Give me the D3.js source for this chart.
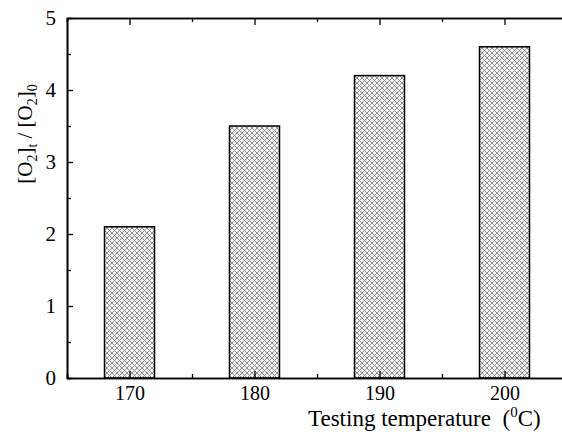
<!DOCTYPE html>
<html>
<head>
<meta charset="utf-8">
<script src="https://cdn.jsdelivr.net/npm/d3@7"></script>
<style>
  body { margin: 0; background: #fff; }
  svg { display: block; }
  .axis path, .axis line { stroke: #000; }
  .axis path { stroke-width: 1.6; }
  .axis line { stroke-width: 1.3; }
  .axis text { font-family: "Liberation Serif", "Times New Roman", serif; font-size: 21px; fill: #000; }
  .x.axis text { font-size: 20px; }
</style>
</head>
<body>
<svg class="chart"></svg>
<script>
const temps = [170, 180, 190, 200];
const ratios = [2.1, 3.5, 4.2, 4.6];
const yTicks = [0, 1, 2, 3, 4, 5];
const xTicks = [170, 180, 190, 200];

let margin = {top: 18, right: -5, bottom: 54, left: 67};
let widthChart = 562 - margin.left - margin.right;
let heightChart = 432 - margin.top - margin.bottom;

let svg = d3.select(".chart").attr("width", 562).attr("height", 432);

// crosshatch fill for the bars
let pat = svg.append("defs").append("pattern")
    .attr("id", "hatch")
    .attr("patternUnits", "userSpaceOnUse")
    .attr("width", 5).attr("height", 5);
pat.append("rect").attr("width", 5).attr("height", 5).attr("fill", "#f4f4f4");
pat.append("path").attr("d", "M-1,1 L1,-1 M0,5 L5,0 M4,6 L6,4")
    .attr("stroke", "#777").attr("stroke-width", 0.8);
pat.append("path").attr("d", "M-1,4 L1,6 M0,0 L5,5 M4,-1 L6,1")
    .attr("stroke", "#777").attr("stroke-width", 0.8);

let chart = svg.append("g")
    .attr("transform", "translate(" + margin.left + "," + margin.top + ")");

let x = d3.scaleLinear().domain([165, 205]).range([0, widthChart]);
let y = d3.scaleLinear().domain([0, 5]).range([heightChart, 0]);
let barW = x(174) - x(170);

chart.selectAll("rect.bar")
    .data(temps)
    .enter().append("rect")
    .attr("class", "bar")
    .attr("x", (d) => x(d) - barW / 2)
    .attr("y", (d, i) => y(ratios[i]))
    .attr("width", barW)
    .attr("height", (d, i) => heightChart - y(ratios[i]))
    .attr("fill", "url(#hatch)")
    .attr("stroke", "#000")
    .attr("stroke-width", 1.5);

// minor ticks first, then major ticks with labels (all pointing inward)
let xMinor = d3.range(165, 206, 5).filter((v) => xTicks.indexOf(v) < 0);
let yMinor = d3.range(0.5, 5, 1);

chart.append("g").attr("class", "x axis")
    .attr("transform", "translate(0," + heightChart + ")")
    .call(d3.axisBottom(x).tickValues(xMinor).tickSize(-4).tickFormat(""));
chart.append("g").attr("class", "x axis")
    .attr("transform", "translate(0," + heightChart + ")")
    .call(d3.axisBottom(x).tickValues(xTicks).tickSizeInner(-7).tickSizeOuter(0).tickPadding(8).tickFormat(d3.format("d")));

chart.append("g").attr("class", "x axis")
    .call(d3.axisTop(x).tickValues(xMinor).tickSize(-4).tickFormat(""));
chart.append("g").attr("class", "x axis")
    .call(d3.axisTop(x).tickValues(xTicks).tickSizeInner(-7).tickSizeOuter(0).tickFormat(""));

chart.append("g").attr("class", "y axis")
    .call(d3.axisLeft(y).tickValues(yMinor).tickSize(-4).tickFormat(""));
chart.append("g").attr("class", "y axis")
    .call(d3.axisLeft(y).tickValues(yTicks).tickSizeInner(-6).tickSizeOuter(0).tickPadding(11).tickFormat(d3.format("d")));

// axis titles
let xt = svg.append("text")
    .attr("x", 308).attr("y", 426)
    .attr("font-family", "Liberation Serif, serif").attr("font-size", 23)
    .attr("xml:space", "preserve");
xt.append("tspan").text("Testing temperature  (");
xt.append("tspan").attr("font-size", 15).attr("dy", -9).text("0");
xt.append("tspan").attr("dy", 9).text("C)");

let yt = svg.append("text")
    .attr("transform", "translate(32,134) rotate(-90)")
    .attr("text-anchor", "middle")
    .attr("font-family", "Liberation Serif, serif").attr("font-size", 21);
yt.append("tspan").text("[O");
yt.append("tspan").attr("font-size", 14).attr("dy", 5).text("2");
yt.append("tspan").attr("dy", -5).text("]");
yt.append("tspan").attr("font-size", 14).attr("dy", 5).text("t");
yt.append("tspan").attr("dy", -5).text(" / [O");
yt.append("tspan").attr("font-size", 14).attr("dy", 5).text("2");
yt.append("tspan").attr("dy", -5).text("]");
yt.append("tspan").attr("font-size", 14).attr("dy", 5).text("0");
</script>
</body>
</html>
